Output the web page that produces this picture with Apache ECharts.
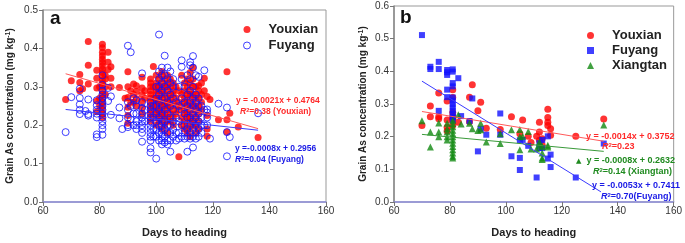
<!DOCTYPE html>
<html>
<head>
<meta charset="utf-8">
<script src="https://cdn.jsdelivr.net/npm/echarts@6/dist/echarts.min.js"></script>
<style>
  html, body { margin: 0; padding: 0; background: #fff; }
  #chart { width: 685px; height: 243px; }
</style>
</head>
<body>
<div id="chart"></div>
<script>
// panel a: [days to heading, [grain As values at that day]]
const youxianA = [
  [68, [0.267]], [70, [0.316]], [73, [0.332, 0.311, 0.29]], [74, [0.295]],
  [76, [0.418, 0.356, 0.307]], [79, [0.343, 0.322, 0.297, 0.263, 0.235]], [80, [0.30, 0.27, 0.25]],
  [81, [0.411, 0.402, 0.39, 0.381, 0.372, 0.363, 0.355, 0.346, 0.337, 0.328, 0.318, 0.31, 0.302, 0.29, 0.28, 0.27, 0.26, 0.25, 0.24, 0.23, 0.22]],
  [82, [0.33, 0.32, 0.30, 0.28]], [83, [0.39, 0.364, 0.345]], [84, [0.352, 0.322, 0.30]],
  [87, [0.298]], [89, [0.27]], [90, [0.339, 0.30, 0.272, 0.247, 0.225, 0.205]], [91, [0.29, 0.26]],
  [92, [0.307, 0.28, 0.26]], [93, [0.303, 0.288, 0.269, 0.25]], [95, [0.325, 0.297, 0.28, 0.263, 0.246, 0.23]],
  [96, [0.29, 0.27]], [98, [0.32, 0.31, 0.30, 0.29, 0.28, 0.27, 0.26, 0.25, 0.24, 0.23, 0.22, 0.21]],
  [99, [0.353, 0.30, 0.27, 0.25]], [100, [0.33, 0.31, 0.30, 0.29, 0.28, 0.27, 0.26, 0.25, 0.24, 0.23, 0.22, 0.20]],
  [101, [0.32, 0.30, 0.29, 0.27, 0.26, 0.24, 0.23, 0.21]],
  [102, [0.34, 0.33, 0.31, 0.30, 0.29, 0.28, 0.27, 0.26, 0.25, 0.24, 0.23, 0.22, 0.21, 0.19]],
  [103, [0.32, 0.30, 0.28, 0.26, 0.25, 0.23, 0.22, 0.20]],
  [104, [0.33, 0.31, 0.30, 0.29, 0.27, 0.26, 0.25, 0.24, 0.22, 0.21, 0.18]],
  [105, [0.32, 0.30, 0.28, 0.27, 0.25, 0.23, 0.21]], [106, [0.31, 0.29, 0.28, 0.26, 0.24, 0.22, 0.20]],
  [107, [0.30, 0.27, 0.25, 0.23]], [108, [0.29, 0.26, 0.24, 0.118]], [109, [0.33, 0.28, 0.25, 0.22, 0.20]],
  [110, [0.31, 0.29, 0.27, 0.26, 0.24, 0.23, 0.21, 0.19]],
  [111, [0.32, 0.30, 0.28, 0.26, 0.25, 0.23, 0.22, 0.20, 0.18]],
  [112, [0.337, 0.31, 0.29, 0.28, 0.27, 0.25, 0.24, 0.22, 0.21, 0.19, 0.17]],
  [113, [0.35, 0.32, 0.30, 0.28, 0.26, 0.25, 0.23, 0.21, 0.20]],
  [114, [0.30, 0.28, 0.27, 0.25, 0.24, 0.22, 0.20, 0.18]],
  [115, [0.303, 0.29, 0.27, 0.25, 0.23, 0.21, 0.19]], [116, [0.31, 0.28, 0.26, 0.24]],
  [117, [0.322, 0.29]], [118, [0.275, 0.225, 0.19, 0.171]], [119, [0.267]], [122, [0.214]],
  [125, [0.339, 0.214, 0.182]], [126, [0.231]], [129, [0.195]], [136, [0.168]]
];
const fuyangA = [
  [68, [0.182]], [70, [0.273]], [73, [0.295, 0.271, 0.254, 0.24, 0.229]], [75, [0.237]],
  [76, [0.267, 0.229, 0.225]], [79, [0.265, 0.252, 0.24, 0.23, 0.22, 0.176, 0.169]],
  [81, [0.33, 0.305, 0.29, 0.28, 0.27, 0.26, 0.25, 0.24, 0.23, 0.22, 0.21, 0.20, 0.19, 0.175]],
  [83, [0.297, 0.263]], [84, [0.275, 0.227]], [87, [0.246, 0.218]], [88, [0.19]],
  [90, [0.407, 0.26, 0.24, 0.22, 0.20, 0.195]], [91, [0.39, 0.25, 0.215]], [92, [0.27, 0.23, 0.20]],
  [93, [0.265, 0.25, 0.23, 0.21, 0.20, 0.19]], [95, [0.335, 0.26, 0.245, 0.23, 0.22, 0.21, 0.20, 0.19, 0.18, 0.157]],
  [96, [0.24, 0.21]], [98, [0.26, 0.25, 0.24, 0.23, 0.22, 0.21, 0.20, 0.19, 0.18, 0.17, 0.16, 0.14, 0.129]],
  [99, [0.25, 0.22, 0.19, 0.17]], [100, [0.30, 0.27, 0.25, 0.23, 0.21, 0.19, 0.17, 0.113]],
  [101, [0.436, 0.34, 0.32, 0.30, 0.28, 0.26, 0.24, 0.22, 0.20, 0.18, 0.16]],
  [102, [0.35, 0.33, 0.31, 0.29, 0.27, 0.25, 0.23, 0.21, 0.20, 0.19, 0.18, 0.17, 0.16, 0.15]],
  [103, [0.381, 0.33, 0.30, 0.27, 0.24, 0.21, 0.19, 0.17, 0.155]],
  [104, [0.35, 0.32, 0.29, 0.26, 0.23, 0.20, 0.18, 0.16, 0.15]],
  [105, [0.34, 0.31, 0.28, 0.25, 0.22, 0.20, 0.18, 0.16, 0.131]],
  [106, [0.32, 0.30, 0.27, 0.24, 0.21, 0.19, 0.17]], [107, [0.26, 0.22, 0.18, 0.16]],
  [108, [0.30, 0.25, 0.21, 0.18, 0.165]], [109, [0.369, 0.352, 0.32, 0.27, 0.24, 0.20, 0.17]],
  [110, [0.30, 0.26, 0.23, 0.20, 0.18, 0.165]], [111, [0.33, 0.28, 0.25, 0.22, 0.19, 0.17, 0.131]],
  [112, [0.364, 0.356, 0.32, 0.29, 0.26, 0.24, 0.22, 0.20, 0.18, 0.165]],
  [113, [0.38, 0.35, 0.30, 0.27, 0.25, 0.23, 0.21, 0.19, 0.17, 0.142]],
  [114, [0.33, 0.28, 0.26, 0.24, 0.22, 0.20, 0.18, 0.165]],
  [115, [0.326, 0.27, 0.25, 0.23, 0.21, 0.19, 0.17]], [116, [0.25, 0.22, 0.20, 0.18]],
  [117, [0.343, 0.24, 0.20]], [118, [0.241, 0.233, 0.22, 0.20]], [119, [0.165]], [122, [0.256]],
  [125, [0.246, 0.182, 0.119]], [126, [0.169]], [136, [0.231]]
];

// panel b: [days to heading, grain As]
const youxianB = [
  [70, 0.234], [73, 0.294], [73, 0.261], [76, 0.334], [76, 0.261], [76, 0.255], [79, 0.309], [79, 0.251],
  [79, 0.229], [79, 0.217], [81, 0.344], [81, 0.32], [81, 0.274], [81, 0.262], [81, 0.254], [81, 0.234],
  [83, 0.244], [87, 0.321], [87, 0.246], [88, 0.359], [90, 0.279], [91, 0.305], [93, 0.226], [98, 0.222],
  [102, 0.261], [105, 0.209], [106, 0.251], [108, 0.201], [109, 0.182], [111, 0.201], [112, 0.244],
  [112, 0.214], [112, 0.189], [113, 0.194], [113, 0.174], [115, 0.284], [115, 0.259], [115, 0.244],
  [115, 0.234], [116, 0.224], [116, 0.204], [125, 0.201], [135, 0.254]
];
const fuyangB = [
  [70, 0.511], [73, 0.414], [73, 0.407], [76, 0.429], [76, 0.407], [76, 0.279], [79, 0.404], [79, 0.397],
  [79, 0.389], [79, 0.344], [79, 0.321], [81, 0.406], [81, 0.399], [81, 0.364], [81, 0.354], [81, 0.32],
  [81, 0.31], [81, 0.30], [81, 0.29], [81, 0.28], [81, 0.27], [81, 0.26], [81, 0.25], [83, 0.379],
  [84, 0.263], [87, 0.248], [88, 0.317], [90, 0.155], [91, 0.224], [93, 0.206], [98, 0.271], [98, 0.206],
  [102, 0.14], [105, 0.189], [105, 0.135], [105, 0.098], [106, 0.19], [108, 0.172], [111, 0.075],
  [112, 0.18], [112, 0.165], [113, 0.165], [113, 0.19], [115, 0.201], [115, 0.133], [116, 0.145],
  [116, 0.107], [125, 0.075], [135, 0.179]
];
const xiangtanB = [
  [70, 0.249], [73, 0.214], [73, 0.168], [76, 0.242], [76, 0.214], [76, 0.20], [79, 0.241], [79, 0.224],
  [79, 0.214], [79, 0.20], [79, 0.19], [81, 0.25], [81, 0.24], [81, 0.23], [81, 0.22], [81, 0.21],
  [81, 0.20], [81, 0.19], [81, 0.18], [81, 0.17], [81, 0.16], [81, 0.15], [81, 0.14], [81, 0.135],
  [83, 0.267], [84, 0.239], [87, 0.241], [88, 0.224], [90, 0.219], [91, 0.241], [91, 0.221], [93, 0.184],
  [98, 0.209], [98, 0.179], [102, 0.221], [105, 0.222], [105, 0.20], [105, 0.16], [106, 0.201],
  [108, 0.216], [109, 0.162], [111, 0.162], [112, 0.184], [112, 0.174], [113, 0.17], [113, 0.15],
  [113, 0.135], [113, 0.13], [115, 0.174], [115, 0.168], [135, 0.236]
];

// fitted lines, end points
const fitYouxianA = [[68, 0.334], [136, 0.191]];
const fitFuyangA = [[68, 0.241], [136, 0.187]];
const fitYouxianB = [[70, 0.277], [135, 0.186]];
const fitXiangtanB = [[70, 0.207], [135, 0.155]];
const fitFuyangB = [[70, 0.370], [134, 0.031]];

const xRange = [60, 160, 20];
const yRangeA = [0, 0.5, 0.1];
const yRangeB = [0, 0.6, 0.1];

const FONT = "'Liberation Sans', Arial, sans-serif";
const RED = '#ff0000', BLUE = '#1010ff', GREEN = '#128a12';

const flat = groups => groups.flatMap(([d, vals]) => vals.map(v => [d, v]));

const chart = echarts.init(document.getElementById('chart'));

const xAxisOf = (gridIndex) => ({
  type: 'value', gridIndex,
  min: xRange[0], max: xRange[1], interval: xRange[2],
  name: 'Days to heading', nameLocation: 'middle', nameGap: 25,
  nameTextStyle: { fontFamily: FONT, fontSize: 11, fontWeight: 'bold', color: '#222' },
  axisLine: { lineStyle: { color: '#8a8ad8', width: 1.5 } },
  axisTick: { show: true, length: 4, lineStyle: { color: '#777' } },
  axisLabel: { fontFamily: FONT, fontSize: 10, color: '#333', margin: 4 },
  splitLine: { show: false }
});

const yAxisOf = (gridIndex, range, gap) => ({
  type: 'value', gridIndex,
  min: range[0], max: range[1], interval: range[2],
  name: '{a|Grain As concentration (mg kg}{s|-1}{a|)}',
  nameLocation: 'middle', nameGap: gap, nameRotate: 90,
  nameTextStyle: {
    rich: {
      a: { fontFamily: FONT, fontSize: 10, fontWeight: 'bold', color: '#222' },
      s: { fontFamily: FONT, fontSize: 7, fontWeight: 'bold', color: '#222', verticalAlign: 'top' }
    }
  },
  axisLine: { lineStyle: { color: '#888', width: 1.5 } },
  axisTick: { show: true, length: 4, lineStyle: { color: '#777' } },
  axisLabel: { fontFamily: FONT, fontSize: 10, color: '#333', margin: 5, formatter: v => v.toFixed(1) },
  splitLine: { show: false }
});

const fitLine = (name, data, color, idx) => ({
  name, type: 'line', data, xAxisIndex: idx, yAxisIndex: idx,
  showSymbol: false, silent: true, z: 5,
  lineStyle: { color, width: 1 }
});

const eq = (x, y, text, color, size) => ({
  type: 'text', x, y, z: 10,
  style: {
    text, fill: color,
    textVerticalAlign: 'middle', verticalAlign: 'middle',
    rich: {
      t: { fontFamily: FONT, fontSize: size, fontWeight: 'bold', fill: color, color },
      i: { fontFamily: FONT, fontSize: size, fontWeight: 'bold', fontStyle: 'italic', fill: color, color },
      s: { fontFamily: FONT, fontSize: size - 3, fontWeight: 'bold', fill: color, color, verticalAlign: 'top' },
      m: { fontFamily: 'DejaVu Sans', fontSize: size - 2, fill: color, color }
    }
  }
});

// icon kept square (itemWidth = itemHeight), text pushed right with padding
const legendOf = (left, top, gap, data) => ({
  left, top, orient: 'vertical', itemWidth: 7, itemHeight: 7, itemGap: gap,
  selectedMode: false, data,
  itemStyle: { borderWidth: 1 },
  formatter: name => name.split('|')[0],
  textStyle: { fontFamily: FONT, fontSize: 13, fontWeight: 'bold', color: '#222', padding: [0, 0, 0, 13] }
});

const option = {
  animation: false,
  backgroundColor: '#fff',
  grid: [
    { left: 43, top: 10, width: 283, height: 197, show: true, borderColor: '#999', borderWidth: 1 },
    { left: 394, top: 6, width: 282, height: 201, show: true, borderColor: '#999', borderWidth: 1 }
  ],
  xAxis: [xAxisOf(0), xAxisOf(1)],
  yAxis: [yAxisOf(0, yRangeA, 28), yAxisOf(1, yRangeB, 26)],
  legend: [
    legendOf(238, 18, 3, ['Youxian|a', 'Fuyang|a']),
    legendOf(582, 24, 2, ['Youxian|b', 'Fuyang|b', 'Xiangtan|b'])
  ],
  graphic: [
    { type: 'text', x: 50, y: 9, style: { text: 'a', font: 'bold 19px ' + FONT, fill: '#111' } },
    { type: 'text', x: 400, y: 8, style: { text: 'b', font: 'bold 19px ' + FONT, fill: '#111' } },
    eq(236, 101, '{t|y = -0.0021x + 0.4764}', '#ff2a2a', 8.5),
    eq(240, 112, '{i|R}{s|2}{t|=0.38 (Youxian)}', '#ff2a2a', 8.5),
    eq(235, 149, '{t|y =-0.0008x + 0.2956}', '#1a1ae6', 8.5),
    eq(235, 160, '{i|R}{s|2}{t|=0.04 (Fuyang)}', '#1a1ae6', 8.5),
    eq(586, 137, '{t|y = -0.0014x + 0.3752}', '#ff2a2a', 9),
    eq(602, 147, '{i|R}{s|2}{t|=0.23}', '#ff2a2a', 9),
    eq(576, 161, '{m|▲}{t|  y = -0.0008x + 0.2632}', '#1f8a1f', 9),
    eq(593, 172, '{i|R}{s|2}{t|=0.14 (Xiangtan)}', '#1f8a1f', 9),
    eq(592, 186, '{t|y = -0.0053x + 0.7411}', '#1a1ae6', 9),
    eq(601, 197, '{i|R}{s|2}{t|=0.70(Fuyang)}', '#1a1ae6', 9)
  ],
  series: [
    { name: 'Youxian|a', type: 'scatter', xAxisIndex: 0, yAxisIndex: 0, data: flat(youxianA),
      symbol: 'circle', symbolSize: 7, itemStyle: { color: RED } },
    { name: 'Fuyang|a', type: 'scatter', xAxisIndex: 0, yAxisIndex: 0, data: flat(fuyangA),
      symbol: 'circle', symbolSize: 7,
      itemStyle: { color: 'rgba(255,255,255,0)', borderColor: BLUE, borderWidth: 1 } },
    fitLine('fitYa', fitYouxianA, '#ff5a5a', 0),
    fitLine('fitFa', fitFuyangA, '#3a3aff', 0),
    { name: 'Youxian|b', type: 'scatter', xAxisIndex: 1, yAxisIndex: 1, data: youxianB,
      symbol: 'circle', symbolSize: 7, itemStyle: { color: RED } },
    { name: 'Fuyang|b', type: 'scatter', xAxisIndex: 1, yAxisIndex: 1, data: fuyangB,
      symbol: 'rect', symbolSize: 6, itemStyle: { color: BLUE } },
    { name: 'Xiangtan|b', type: 'scatter', xAxisIndex: 1, yAxisIndex: 1, data: xiangtanB,
      symbol: 'triangle', symbolSize: 7, itemStyle: { color: GREEN } },
    fitLine('fitYb', fitYouxianB, '#ff5a5a', 1),
    fitLine('fitXb', fitXiangtanB, '#3a9a3a', 1),
    fitLine('fitFb', fitFuyangB, '#3a3aff', 1)
  ]
};

chart.setOption(option);
window.addEventListener('resize', () => chart.resize());
</script>
</body>
</html>
